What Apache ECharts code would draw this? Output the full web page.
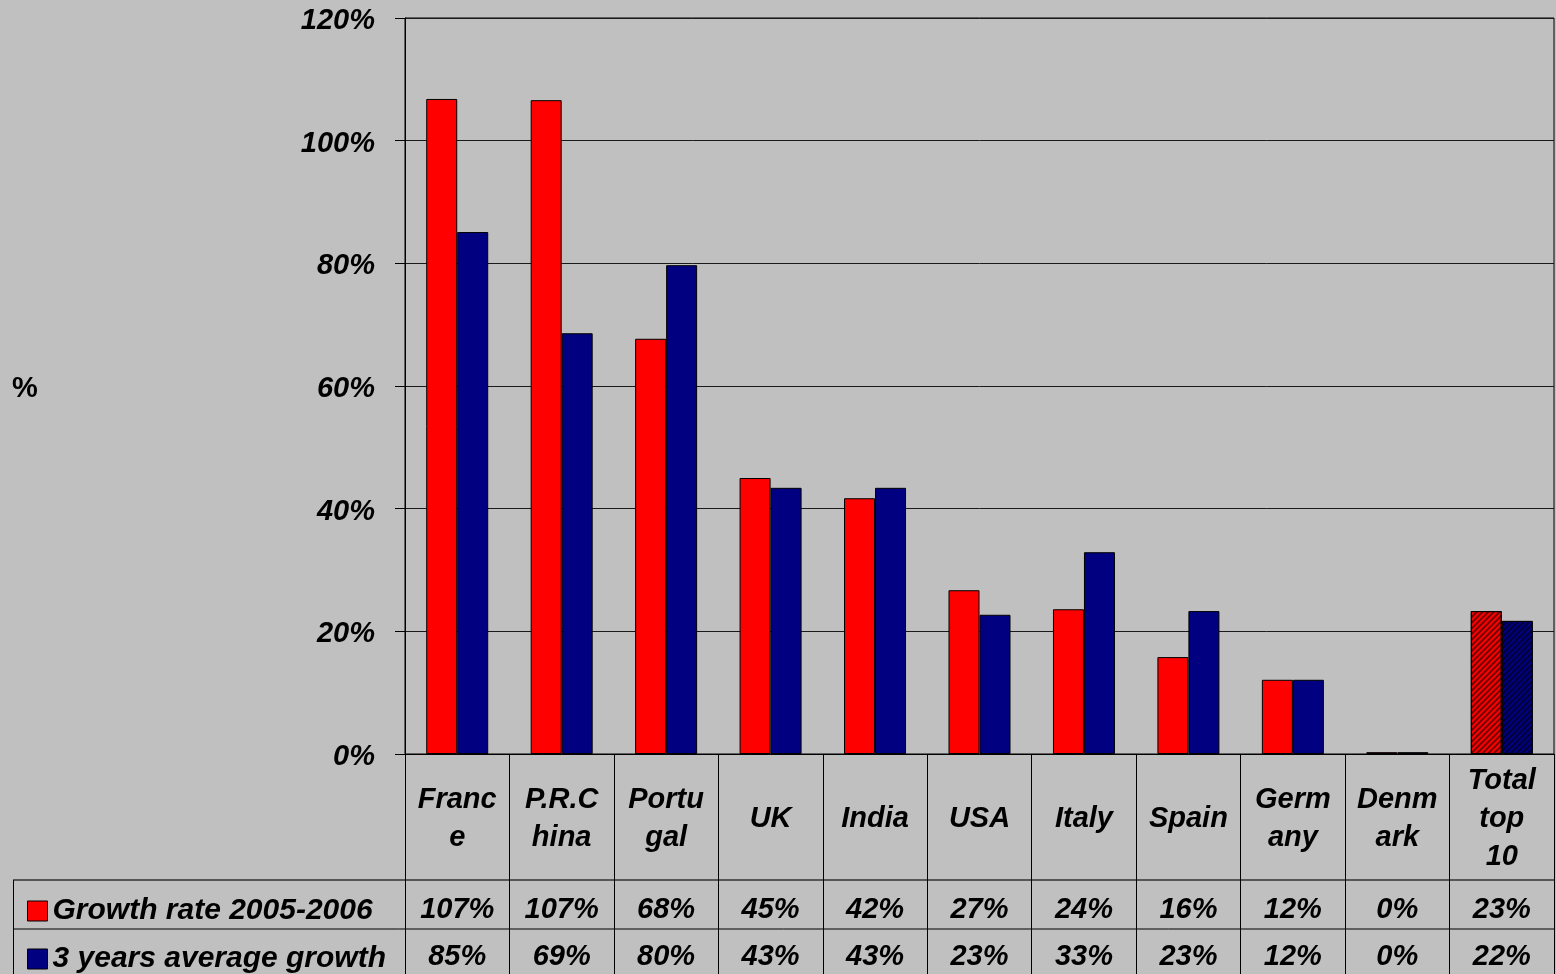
<!DOCTYPE html>
<html>
<head>
<meta charset="utf-8">
<title>Growth rates by country</title>
<script src="https://cdn.jsdelivr.net/npm/echarts@6/dist/echarts.min.js"></script>
<style>
  html, body { margin: 0; padding: 0; background: #c0c0c0; }
  #chart { width: 1556px; height: 974px; }
</style>
</head>
<body>
<div id="chart"></div>
<script>
// Countries (plus the top-10 total) and their wrapped table headings
const categories = ['France', 'P.R.China', 'Portugal', 'UK', 'India', 'USA', 'Italy', 'Spain', 'Germany', 'Denmark', 'Total top 10'];
const categoryLabels = ['Franc\ne', 'P.R.C\nhina', 'Portu\ngal', 'UK', 'India', 'USA', 'Italy', 'Spain', 'Germ\nany', 'Denm\nark', 'Total\ntop\n10'];

// Series values, in percent
const growth2005to2006 = [106.8, 106.6, 67.7, 45.0, 41.7, 26.7, 23.6, 15.8, 12.1, 0.3, 23.3];
const avgGrowth3Years = [85.1, 68.6, 79.7, 43.4, 43.4, 22.7, 32.9, 23.3, 12.1, 0.3, 21.7];

const seriesNames = ['Growth rate 2005-2006', '3 years average growth'];

// Y axis ticks
const yMin = 0, yMax = 120, yStep = 20;

const FONT = "'Liberation Sans', Arial, sans-serif";
const RED = '#ff0000';
const NAVY = '#000080';
const pct = v => Math.round(v) + '%';

const textBase = {
  fontFamily: FONT, fontSize: 29, fontWeight: 'bold', fontStyle: 'italic', color: '#000'
};

// the last category (total) is drawn with a diagonal hatch
const hatch = {
  symbol: 'rect', symbolSize: 1,
  dashArrayX: [1, 0], dashArrayY: [2, 2],
  rotation: -Math.PI / 4, color: 'rgba(0,0,0,0.55)'
};
function withHatch(values) {
  return values.map((v, i) => i === values.length - 1
    ? { value: v, itemStyle: { decal: hatch } }
    : v);
}

const chart = echarts.init(document.getElementById('chart'), null, { renderer: 'canvas' });

const labelAxis = (margin, formatter) => ({
  type: 'category', gridIndex: 0, position: 'bottom', data: categories,
  axisLine: { show: false }, axisTick: { show: false }, splitLine: { show: false },
  axisLabel: Object.assign({}, textBase, {
    interval: 0, margin: margin, verticalAlign: 'middle', align: 'center',
    formatter: formatter
  })
});

chart.setOption({
  backgroundColor: '#c0c0c0',
  animation: false,
  grid: [
    { left: 405, right: 2, top: 18, bottom: 220, show: true, borderColor: '#000', borderWidth: 1, backgroundColor: 'transparent' },
    { left: 405, right: 2, top: 754, bottom: 0, show: false }
  ],
  legend: {
    orient: 'vertical', left: 22, top: 891, height: 300,
    itemWidth: 20, itemHeight: 20, itemGap: 18,
    icon: 'rect',
    data: seriesNames,
    textStyle: Object.assign({}, textBase, { fontSize: 30, lineHeight: 29 }),
    itemStyle: { borderColor: '#000', borderWidth: 1 }
  },
  xAxis: [
    // main category axis of the bars, holding the country headings
    {
      type: 'category', gridIndex: 0, data: categories,
      axisLine: { show: true, lineStyle: { color: '#000', width: 1 } },
      axisTick: { show: false },
      splitLine: { show: false },
      axisLabel: Object.assign({}, textBase, {
        interval: 0, margin: 65, verticalAlign: 'middle', align: 'center',
        lineHeight: 38,
        formatter: (v, i) => categoryLabels[i]
      })
    },
    // value rows of the data table
    labelAxis(156, (v, i) => pct(growth2005to2006[i])),
    labelAxis(203, (v, i) => pct(avgGrowth3Years[i])),
    // column rules of the data table
    {
      type: 'category', gridIndex: 1, data: categories,
      axisLine: { show: false }, axisTick: { show: false }, axisLabel: { show: false },
      splitLine: { show: true, interval: 0, lineStyle: { color: '#000', width: 1 } }
    }
  ],
  yAxis: [
    {
      type: 'value', gridIndex: 0, min: yMin, max: yMax, interval: yStep,
      name: '{n|%}', nameLocation: 'middle', nameGap: 380, nameRotate: 0,
      nameTextStyle: {
        align: 'center', verticalAlign: 'middle',
        rich: { n: { fontFamily: FONT, fontSize: 29, fontWeight: 'bold', color: '#000', padding: [6, 0, 0, 0] } }
      },
      axisLine: { show: true, lineStyle: { color: '#000', width: 1 } },
      axisTick: { show: true, length: 10, lineStyle: { color: '#000', width: 1 } },
      axisLabel: {
        margin: 30,
        formatter: v => '{t|' + v + '%}',
        rich: { t: Object.assign({}, textBase, { padding: [6, 0, 0, 0] }) }
      },
      splitLine: { show: true, lineStyle: { color: '#1a1a1a', width: 1 } }
    },
    { type: 'value', gridIndex: 1, show: false, min: 0, max: 1 }
  ],
  series: [
    {
      name: seriesNames[0], type: 'bar', xAxisIndex: 0, yAxisIndex: 0,
      barWidth: 31, barGap: '0%',
      itemStyle: { color: RED, borderColor: '#000', borderWidth: 1 },
      data: withHatch(growth2005to2006)
    },
    {
      name: seriesNames[1], type: 'bar', xAxisIndex: 0, yAxisIndex: 0,
      barWidth: 31, barGap: '0%',
      itemStyle: { color: NAVY, borderColor: '#000', borderWidth: 1 },
      data: withHatch(avgGrowth3Years)
    }
  ],
  // row rules and the left edge of the data table
  graphic: [
    { type: 'line', shape: { x1: 13, y1: 880, x2: 1554, y2: 880 }, style: { stroke: '#333', lineWidth: 1.5 } },
    { type: 'line', shape: { x1: 13, y1: 929, x2: 1554, y2: 929 }, style: { stroke: '#000', lineWidth: 1 } },
    { type: 'line', shape: { x1: 13.5, y1: 880, x2: 13.5, y2: 974 }, style: { stroke: '#000', lineWidth: 1 } },
    { type: 'line', shape: { x1: 405.5, y1: 754, x2: 405.5, y2: 974 }, style: { stroke: '#000', lineWidth: 1 } }
  ]
});
</script>
</body>
</html>
